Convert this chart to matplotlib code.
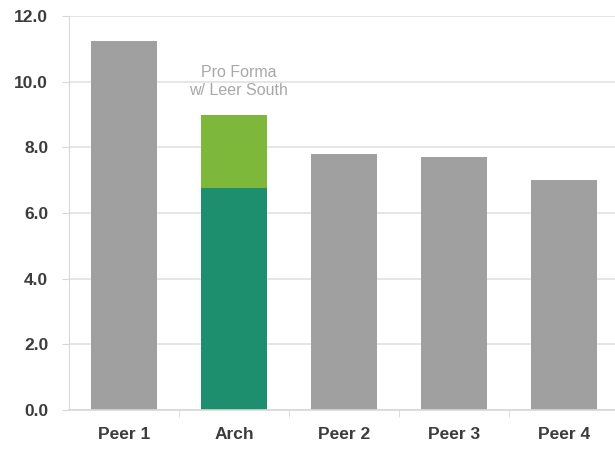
import matplotlib.pyplot as plt
from matplotlib.ticker import FixedLocator

categories = ["Peer 1", "Arch", "Peer 2", "Peer 3", "Peer 4"]
base_values = [11.25, 6.75, 7.8, 7.7, 7.0]
pro_forma_add = [0, 2.25, 0, 0, 0]
base_colors = ["#a0a0a0", "#1e8f6e", "#a0a0a0", "#a0a0a0", "#a0a0a0"]
y_ticks = [0, 2, 4, 6, 8, 10, 12]

plt.rcParams['font.family'] = ['Liberation Sans', 'DejaVu Sans']

fig = plt.figure(figsize=(6.15, 4.51), dpi=100)
ax = fig.add_axes([69 / 615, 41 / 451, 550 / 615, 394 / 451])

x = list(range(len(categories)))
ax.bar(x, base_values, width=0.595, color=base_colors, zorder=2)
ax.bar(x[1], pro_forma_add[1], bottom=base_values[1], width=0.595,
       color="#7db83a", zorder=2)

# label above the Arch stack
ax.text(1.04, 10.0, "Pro Forma\nw/ Leer South",
        ha="center", va="center", fontsize=11.5, color="#a8a8a8",
        linespacing=1.3)

ax.set_xlim(-0.5, 4.5)
ax.set_ylim(0, 12)
ax.set_yticks(y_ticks)
ax.set_yticklabels([f"{v:.1f}" for v in y_ticks])
ax.set_xticks(x)
ax.set_xticklabels(categories)
ax.xaxis.set_minor_locator(FixedLocator([0.5, 1.5, 2.5, 3.5]))

ax.grid(axis="y", color="#e2e2e2", linewidth=1.2, zorder=0)
for s in ["top", "right"]:
    ax.spines[s].set_visible(False)
ax.spines["left"].set_color("#d8d8d8")
ax.spines["bottom"].set_color("#d8d8d8")
ax.spines["bottom"].set_linewidth(1.2)

ax.tick_params(axis="y", length=5, color="#d8d8d8", pad=10,
               labelsize=12.5, labelcolor="#3c3c3c")
ax.tick_params(axis="x", which="major", length=0, pad=12,
               labelsize=12.5, labelcolor="#3c3c3c")
ax.tick_params(axis="x", which="minor", length=5, color="#d8d8d8")
for lbl in ax.get_xticklabels() + ax.get_yticklabels():
    lbl.set_fontweight("bold")

fig.savefig("out.png", dpi=100)
